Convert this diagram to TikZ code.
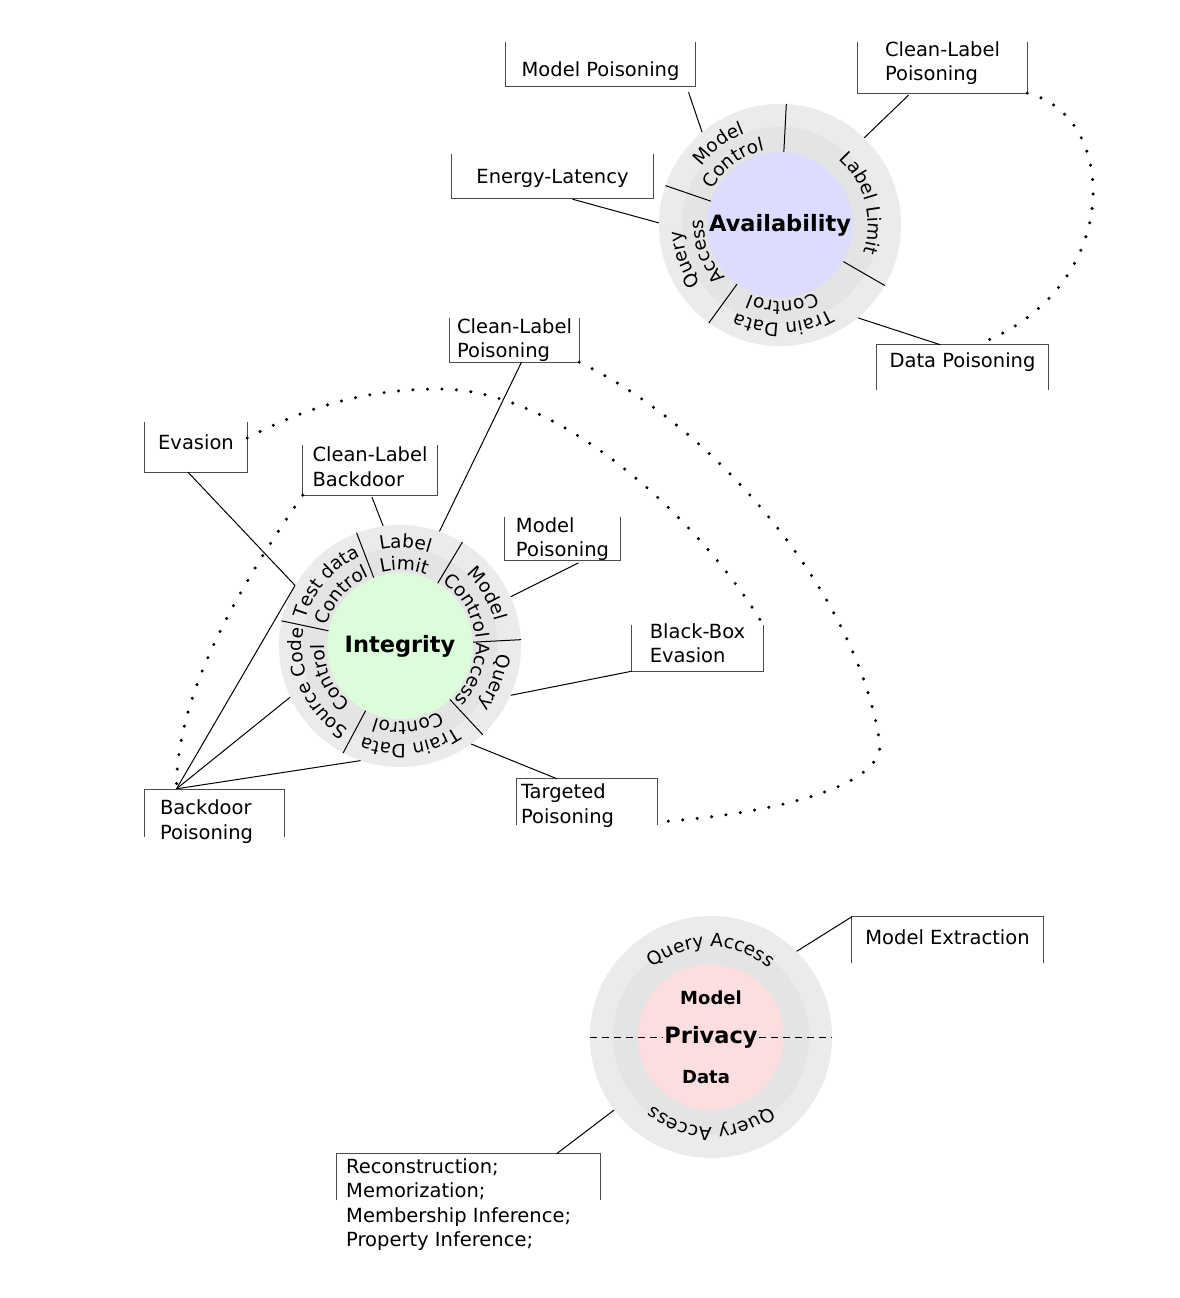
\documentclass[tikz,border=0pt]{standalone}
\usepackage{fontspec}
\setmainfont{DejaVu Sans}
\usetikzlibrary{calc,decorations.text}

\definecolor{ringgray}{HTML}{EBEBEB}
\definecolor{midgray}{HTML}{E4E4E4}
\definecolor{availblue}{HTML}{DCDCFC}
\definecolor{integgreen}{HTML}{DCFCDC}
\definecolor{privpink}{HTML}{FCDEDE}

\newcommand{\boxfont}{\fontsize{19.5}{24.5}\selectfont}
\newcommand{\arcfont}{\fontsize{18.5}{22}\selectfont}
\newcommand{\corefont}{\fontsize{22.5}{27}\selectfont\bfseries}
\newcommand{\subfont}{\fontsize{18}{22}\selectfont\bfseries}

\newcommand{\arclabel}[4]{\pgfmathsetmacro{\arcA}{#3+75}\pgfmathsetmacro{\arcB}{#3-75}%
  \path[decorate,decoration={text along path,text align=center,text={|\arcfont|#4}}]
    ($(#1.center)+(\arcA:#2)$) arc[start angle=\arcA,end angle=\arcB,radius=#2];}
\newcommand{\opentop}[2]{\draw[frame] ([yshift=#2pt]#1.north west) |- ([yshift=#2pt]#1.south east) -- ([yshift=#2pt]#1.north east);}
\newcommand{\openbot}[2]{\draw[frame] ([yshift=#2pt]#1.south west) |- ([yshift=#2pt]#1.north east) -- ([yshift=#2pt]#1.south east);}

\tikzset{
  ring/.style={circle,inner sep=0pt,minimum size=242pt,fill=ringgray},
  midring/.style={circle,inner sep=0pt,minimum size=196pt,fill=midgray},
  core/.style={circle,inner sep=0pt,minimum size=146pt,font=\corefont},
  lbl/.style={inner sep=0pt,font=\boxfont,align=left},
  frame/.style={draw=black!70,line width=1pt},
  link/.style={draw=black,line width=1pt},
  divider/.style={draw=black,line width=1pt},
  dots/.style={line width=3.4pt,line cap=round,dash pattern=on 0pt off 14.5pt},
  cut/.style={line width=1pt,dash pattern=on 7pt off 5pt}
}

\begin{document}
\begin{tikzpicture}[x=1pt,y=1pt]
\fill[white] (0,0) rectangle (1180,-1298);

\node[ring] (avail) at (780,-225) {};
\node[midring] (availmid) at (avail.center) {};
\node[core,fill=availblue] (availcore) at (avail.center) {Availability};
\foreach \a in {87,161,234,330} \draw[divider] (availcore.\a) -- (avail.\a);
\arclabel{avail}{98}{127}{Model}
\arclabel{avail}{76}{127}{Control}
\arclabel{avail}{88}{15}{Label Limit}
\arclabel{avail}{98}{200}{Query}
\arclabel{avail}{76}{200}{Access}
\arclabel{avail}{98}{272}{Train Data}
\arclabel{avail}{76}{272}{Control}

\node[lbl,minimum width=189pt,minimum height=44pt] (mpoisA) at (600.5,-71) {Model Poisoning};
\node[lbl,minimum width=169pt,minimum height=51pt] (cpoisA) at (942.5,-63) {Clean-Label\\Poisoning};
\node[lbl,minimum width=201pt,minimum height=44pt] (energy) at (552.5,-178) {Energy-Latency};
\node[lbl,minimum width=171pt,minimum height=45pt] (dpoisA) at (962.5,-362.5) {Data Poisoning};
\opentop{mpoisA}{7} \opentop{cpoisA}{-4.5} \opentop{energy}{2} \openbot{dpoisA}{-5}
\draw[link] ([xshift=88pt,yshift=1pt]mpoisA.south) -- (avail.130);
\draw[link] ([xshift=-34pt,yshift=-6.5pt]cpoisA.south) -- (avail.46);
\draw[link] ([xshift=20pt,yshift=1pt]energy.south) -- (avail.179);
\draw[link] ([xshift=-22pt,yshift=-5pt]dpoisA.north) -- (avail.310);
\draw[dots] ([yshift=-4.5pt]cpoisA.south east) .. controls (1120,-115) and (1125,-290) .. ([xshift=14pt,yshift=-5pt]dpoisA.north);

\node[ring] (integ) at (400,-646) {};
\node[midring] (integmid) at (integ.center) {};
\node[core,fill=integgreen] (integcore) at (integ.center) {Integrity};
\foreach \a in {3,59,111,168,242,313} \draw[divider] (integcore.\a) -- (integ.\a);
\arclabel{integ}{98}{87}{Label}
\arclabel{integ}{76}{87}{Limit}
\arclabel{integ}{98}{31}{Model}
\arclabel{integ}{76}{31}{Control}
\arclabel{integ}{98}{-21}{Query}
\arclabel{integ}{76}{-21}{Access}
\arclabel{integ}{98}{276}{Train Data}
\arclabel{integ}{76}{276}{Control}
\arclabel{integ}{98}{204}{Source Code}
\arclabel{integ}{76}{204}{Control}
\arclabel{integ}{98}{139}{Test data}
\arclabel{integ}{76}{139}{Control}

\node[lbl,minimum width=102pt,minimum height=50pt] (evasion) at (196,-442) {Evasion};
\node[lbl,minimum width=134pt,minimum height=50pt] (clbd) at (370,-466.5) {Clean-Label\\Backdoor};
\node[lbl,minimum width=129pt,minimum height=44pt] (cpoisI) at (514.5,-340) {Clean-Label\\Poisoning};
\node[lbl,minimum width=115pt,minimum height=42pt] (mpoisI) at (562.5,-539) {Model\\Poisoning};
\node[lbl,minimum width=131pt,minimum height=46pt] (bbev) at (697.5,-643) {Black-Box\\Evasion};
\node[lbl,minimum width=140pt,minimum height=46pt,text width=132pt] (targ) at (587,-805.5) {Targeted\\Poisoning};
\node[lbl,minimum width=139pt,minimum height=47pt,text width=109pt] (bdpois) at (214.5,-821.5) {Backdoor\\Poisoning};
\opentop{evasion}{-5} \opentop{clbd}{-3.5} \opentop{cpoisI}{0} \opentop{mpoisI}{0} \opentop{bbev}{-5}
\openbot{targ}{3.5} \openbot{bdpois}{8}
\coordinate (bdhub) at ([xshift=-38pt,yshift=9pt]bdpois.north);
\draw[link] ([xshift=-8pt,yshift=-5pt]evasion.south) -- (integ.150);
\draw[link] ([xshift=2pt,yshift=-5.5pt]clbd.south) -- (integ.98);
\draw[link] ([xshift=7pt]cpoisI.south) -- (integ.71);
\draw[link] ([xshift=16pt,yshift=-2pt]mpoisI.south) -- (integ.24);
\draw[link] ([yshift=-5pt]bbev.south west) -- (integ.-24);
\draw[link] ([xshift=-30pt,yshift=3.5pt]targ.north) -- (integ.-54);
\draw[link] (bdhub) -- (integ.150);
\draw[link] (bdhub) -- (integ.205);
\draw[link] (bdhub) -- (integ.251);
\draw[dots] ([yshift=4pt]evasion.east) .. controls (320,-400) and (380,-389) .. (440,-389)
  .. controls (560,-389) and (700,-520) .. ([yshift=-5pt]bbev.north east);
\draw[dots] (cpoisI.south east) .. controls (720,-430) and (860,-600) .. (880,-745)
  .. controls (880,-790) and (760,-815) .. ([yshift=-16.5pt]targ.east);
\draw[dots] ([yshift=-3.5pt]clbd.south west) .. controls (230,-600) and (176,-700) .. (bdhub);

\node[ring] (priv) at (711,-1037) {};
\node[midring] (privmid) at (priv.center) {};
\node[core,fill=privpink] (privcore) at (priv.center) {};
\node[font=\corefont,inner sep=1pt] (privlbl) at (priv.center) {Privacy};
\node[font=\subfont] (modellbl) at (711,-998) {Model};
\node[font=\subfont] (datalbl) at (706,-1077) {Data};
\draw[cut] (priv.west) -- (privlbl.west);
\draw[cut] (privlbl.east) -- (priv.east);
\arclabel{priv}{90}{90}{Query Access}
\arclabel{priv}{90}{270}{Query Access}

\node[lbl,minimum width=191pt,minimum height=46pt] (mext) at (947.5,-937) {Model Extraction};
\node[minimum width=263pt,minimum height=46pt,inner sep=0pt] (recbox) at (468.5,-1177) {};
\node[lbl,anchor=north west] (rectext) at (346,-1158) {Reconstruction;\\Memorization;\\Membership Inference;\\Property Inference;};
\openbot{mext}{-3} \openbot{recbox}{0}
\draw[link] ([yshift=-3pt]mext.north west) -- (priv.45);
\draw[link] ([xshift=88pt]recbox.north) -- (priv.217);
\end{tikzpicture}
\end{document}
